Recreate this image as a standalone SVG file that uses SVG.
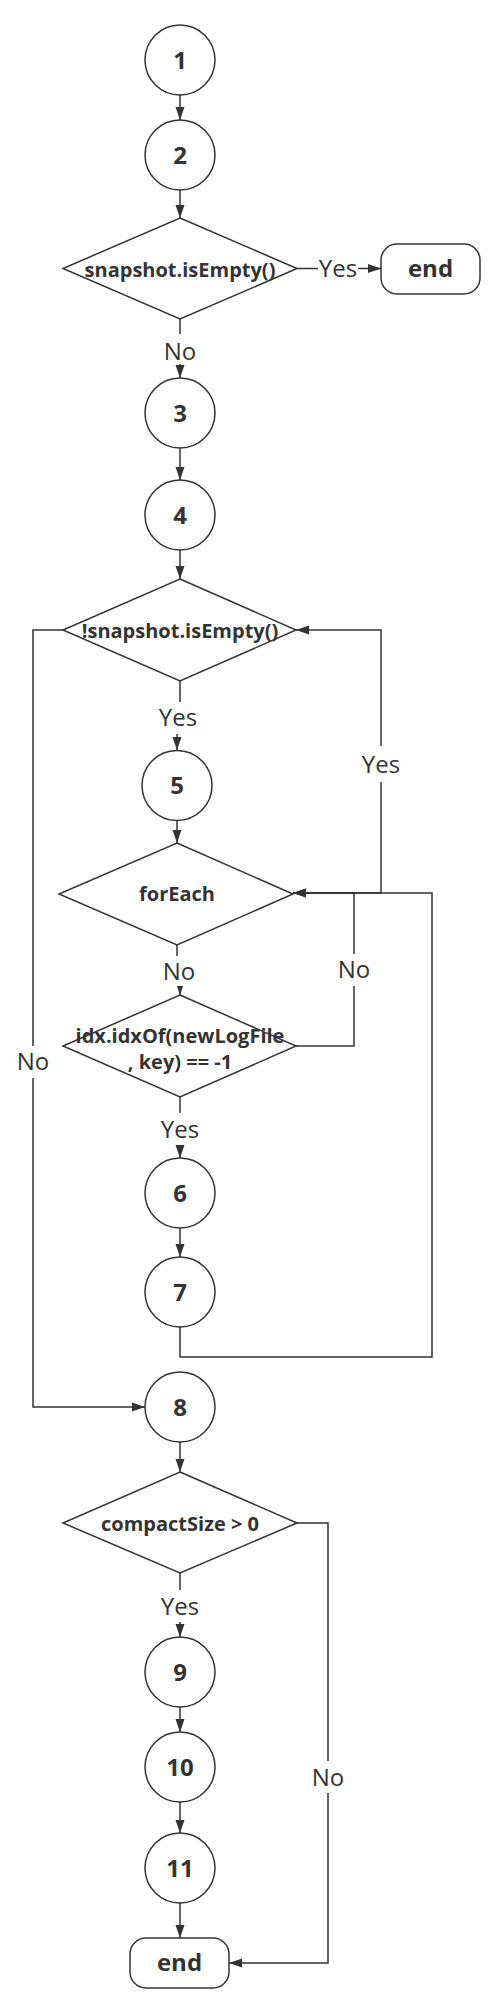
<svg xmlns="http://www.w3.org/2000/svg" width="504" height="2013" viewBox="0 0 504 2013">
<defs>
<style>
.n{fill:#fff;stroke:#333;stroke-width:1.5}
.t{font-family:"Open Sans","Liberation Sans",sans-serif;font-weight:700;font-size:24px;fill:#333;text-anchor:middle}
.d{font-family:"Open Sans","Liberation Sans",sans-serif;font-weight:700;font-size:20px;fill:#333;text-anchor:middle}
.e{fill:none;stroke:#333;stroke-width:1.5}
.l{font-family:"Open Sans","Liberation Sans",sans-serif;font-weight:400;font-size:24px;fill:#333;text-anchor:middle}
.lb{fill:#fff;stroke:none}
</style>
<marker id="a" viewBox="0 0 13 10" refX="13" refY="5" markerWidth="13" markerHeight="10" markerUnits="userSpaceOnUse" orient="auto">
<path d="M0,0.5 L13,5 L0,9.5 Z" fill="#333"/>
</marker>
</defs>
<rect width="504" height="2013" fill="#fff"/>
<g id="connectors">
<path class="e" d="M180 95 V120" marker-end="url(#a)"/>
<path class="e" d="M180 190 V218" marker-end="url(#a)"/>
<path class="e" d="M297 268.5 H381" marker-end="url(#a)"/>
<path class="e" d="M180 319 V378" marker-end="url(#a)"/>
<path class="e" d="M180 448 V480" marker-end="url(#a)"/>
<path class="e" d="M180 550 V579" marker-end="url(#a)"/>
<path class="e" d="M180 681 V718 H177 V750" marker-end="url(#a)"/>
<path class="e" d="M293 893 H381 V630 H296" marker-end="url(#a)"/>
<path class="e" d="M63 630 H33 V1407 H145" marker-end="url(#a)"/>
<path class="e" d="M177 820 V843" marker-end="url(#a)"/>
<path class="e" d="M177 945 V972 H180 V995" marker-end="url(#a)"/>
<path class="e" d="M296 1046 H354 V893 H293" marker-end="url(#a)"/>
<path class="e" d="M180 1097 V1158" marker-end="url(#a)"/>
<path class="e" d="M180 1228 V1257" marker-end="url(#a)"/>
<path class="e" d="M180 1327 V1357 H432 V893 H293" marker-end="url(#a)"/>
<path class="e" d="M180 1442 V1472" marker-end="url(#a)"/>
<path class="e" d="M180 1573 V1637" marker-end="url(#a)"/>
<path class="e" d="M180 1707 V1732" marker-end="url(#a)"/>
<path class="e" d="M180 1802 V1833" marker-end="url(#a)"/>
<path class="e" d="M180 1903 V1938" marker-end="url(#a)"/>
<path class="e" d="M297 1523 H328 V1963 H229" marker-end="url(#a)"/>
<rect class="lb" x="318" y="256" width="40" height="25"/>
<text class="l" x="338" y="277">Yes</text>
<rect class="lb" x="163" y="334" width="34" height="30"/>
<text class="l" x="180" y="360">No</text>
<rect class="lb" x="158" y="702" width="40" height="32"/>
<text class="l" x="178" y="726">Yes</text>
<rect class="lb" x="361" y="746" width="40" height="36"/>
<text class="l" x="381" y="773">Yes</text>
<rect class="lb" x="162" y="956" width="34" height="30"/>
<text class="l" x="179" y="980">No</text>
<rect class="lb" x="337" y="954" width="34" height="32"/>
<text class="l" x="354" y="978">No</text>
<rect class="lb" x="16" y="1046" width="34" height="32"/>
<text class="l" x="33" y="1070">No</text>
<rect class="lb" x="160" y="1113" width="40" height="32"/>
<text class="l" x="180" y="1138">Yes</text>
<rect class="lb" x="160" y="1590" width="40" height="32"/>
<text class="l" x="180" y="1615">Yes</text>
<rect class="lb" x="311" y="1761" width="34" height="32"/>
<text class="l" x="328" y="1786">No</text>
</g>
<g id="n1"><circle class="n" cx="180" cy="60" r="35"/><text class="t" x="180" y="69">1</text></g>
<g id="n2"><circle class="n" cx="180" cy="155" r="35"/><text class="t" x="180" y="164">2</text></g>
<g id="dA"><polygon class="n" points="180,218 297,268.5 180,319 63,268.5"/><text class="d" x="180" y="277">snapshot.isEmpty()</text></g>
<g id="end1"><rect class="n" x="381" y="244" width="99" height="50" rx="16"/><text class="t" x="430.5" y="277">end</text></g>
<g id="n3"><circle class="n" cx="180" cy="413" r="35"/><text class="t" x="180" y="422">3</text></g>
<g id="n4"><circle class="n" cx="180" cy="515" r="35"/><text class="t" x="180" y="524">4</text></g>
<g id="dB"><polygon class="n" points="180,579 296,630 180,681 63,630"/><text class="d" x="180" y="638">!snapshot.isEmpty()</text></g>
<g id="n5"><circle class="n" cx="177" cy="785.5" r="35"/><text class="t" x="177" y="794">5</text></g>
<g id="dC"><polygon class="n" points="177,843 293,894 177,945 59,894"/><text class="d" x="177" y="901">forEach</text></g>
<g id="dD"><polygon class="n" points="180,995 296,1046 180,1097 63,1046"/><text class="d" x="180" y="1043">idx.idxOf(newLogFile</text><text class="d" x="180" y="1069">, key) == -1</text></g>
<g id="n6"><circle class="n" cx="180" cy="1193" r="35"/><text class="t" x="180" y="1202">6</text></g>
<g id="n7"><circle class="n" cx="180" cy="1292" r="35"/><text class="t" x="180" y="1301">7</text></g>
<g id="n8"><circle class="n" cx="180" cy="1407" r="35"/><text class="t" x="180" y="1416">8</text></g>
<g id="dE"><polygon class="n" points="180,1472 297,1523 180,1573 63,1523"/><text class="d" x="180" y="1531">compactSize &gt; 0</text></g>
<g id="n9"><circle class="n" cx="180" cy="1672" r="35"/><text class="t" x="180" y="1681">9</text></g>
<g id="n10"><circle class="n" cx="180" cy="1767" r="35"/><text class="t" x="180" y="1776">10</text></g>
<g id="n11"><circle class="n" cx="180" cy="1868" r="35"/><text class="t" x="180" y="1877">11</text></g>
<g id="end2"><rect class="n" x="130" y="1938" width="99" height="50" rx="16"/><text class="t" x="179.5" y="1971">end</text></g>
</svg>
